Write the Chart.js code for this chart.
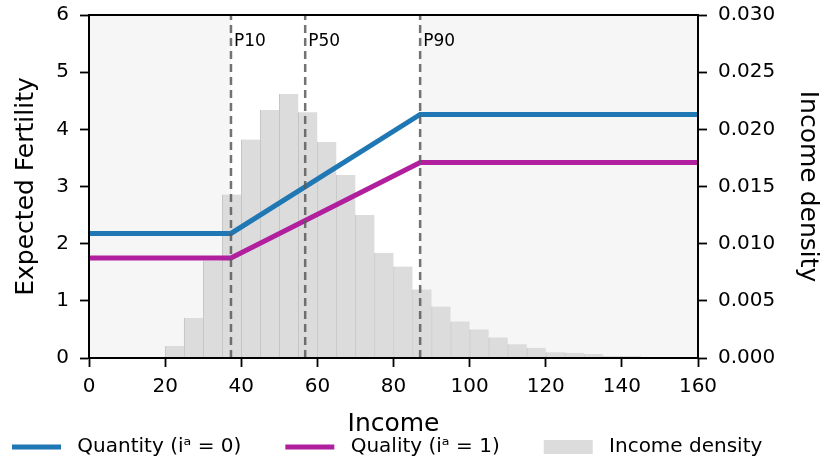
<!DOCTYPE html>
<html>
<head>
<meta charset="utf-8">
<script src="https://cdn.jsdelivr.net/npm/chart.js@4.4.1/dist/chart.umd.min.js"></script>
<style>
html,body{margin:0;padding:0;background:#ffffff;}
canvas{display:block;}
</style>
</head>
<body>
<canvas id="chart" width="822" height="465"></canvas>
<script>
// ---- data ----
const incomeBinLeft = [20, 25, 30, 35, 40, 45, 50, 55, 60, 65, 70, 75, 80, 85, 90, 95, 100, 105, 110, 115, 120, 125, 130, 135, 140];
const incomeBinWidth = 5;
const incomeDensity = [0.00105, 0.0035, 0.0085, 0.0143, 0.0191, 0.0217, 0.0231, 0.0215, 0.0189, 0.0160, 0.0125, 0.0092, 0.0080, 0.0060, 0.0045, 0.0032, 0.0025, 0.0018, 0.0012, 0.0009, 0.0005, 0.00045, 0.00035, 0.00017, 0.00017];

const curveIncome = [0, 37.3, 87.0, 160];
const quantityFertility = [2.18, 2.18, 4.26, 4.26];
const qualityFertility = [1.75, 1.75, 3.42, 3.42];

const percentileNames = ['P10', 'P50', 'P90'];
const percentileIncome = [37.3, 56.8, 87.0];
const percentileLabelY = 5.46;

const legendLabels = [' Quantity (i\u1D43 = 0)', ' Quality (i\u1D43 = 1)', ' Income density'];

const xRange = [0, 160], xStep = 20;
const yRange = [0, 6], yStep = 1;
const y2Range = [0, 0.03], y2Step = 0.005;

// ---- styles ----
const BLUE = '#1f77b4';
const MAGENTA = '#b01f9e';
const BAR = '#dcdcdc';
const BAR_EDGE = '#c4c4c4';
const FONT = "'DejaVu Sans', sans-serif";

Chart.defaults.font.family = FONT;
Chart.defaults.color = '#000';

const barData = incomeBinLeft.map((l, i) => ({x: l + incomeBinWidth / 2, y: incomeDensity[i]}));
const quantityData = curveIncome.map((x, i) => ({x, y: quantityFertility[i]}));
const qualityData = curveIncome.map((x, i) => ({x, y: qualityFertility[i]}));

const vlineSets = percentileIncome.map((p, i) => ({
  type: 'line',
  label: percentileNames[i],
  data: [{x: p, y: yRange[0]}, {x: p, y: yRange[1]}],
  yAxisID: 'y',
  borderColor: 'rgba(90,90,90,0.85)',
  borderWidth: 2.5,
  borderDash: [8, 5],
  pointRadius: 0,
  order: 0
}));

const bgPlugin = {
  id: 'bg',
  beforeDraw(chart) {
    const {ctx, chartArea: a, scales: {x}} = chart;
    ctx.save();
    ctx.fillStyle = '#f6f6f6';
    ctx.fillRect(a.left, a.top, a.right - a.left, a.bottom - a.top);
    const x1 = x.getPixelForValue(percentileIncome[0]);
    const x2 = x.getPixelForValue(percentileIncome[percentileIncome.length - 1]);
    ctx.fillStyle = '#ffffff';
    ctx.fillRect(x1, a.top, x2 - x1, a.bottom - a.top);
    ctx.restore();
  }
};

const framePlugin = {
  id: 'frame',
  afterDatasetsDraw(chart) {
    const {ctx, chartArea: a, scales: {x, y}} = chart;
    ctx.save();
    ctx.fillStyle = '#000';
    ctx.font = "17px " + FONT;
    ctx.textAlign = 'left';
    ctx.textBaseline = 'alphabetic';
    percentileIncome.forEach((p, i) => {
      ctx.fillText(percentileNames[i], x.getPixelForValue(p) + 3, y.getPixelForValue(percentileLabelY));
    });
    ctx.strokeStyle = '#000';
    ctx.lineWidth = 2;
    ctx.strokeRect(a.left, a.top, a.right - a.left, a.bottom - a.top);
    ctx.restore();
  }
};

const axisCommon = {
  grid: {drawOnChartArea: false, drawTicks: true, tickLength: 9, tickWidth: 1.8, color: '#000'},
  border: {display: true, color: '#000', width: 2}
};

new Chart(document.getElementById('chart'), {
  type: 'line',
  data: {
    datasets: [
      {
        type: 'bar',
        label: legendLabels[2],
        data: barData,
        xAxisID: 'x',
        yAxisID: 'y2',
        backgroundColor: BAR,
        borderColor: BAR_EDGE,
        borderWidth: {left: 1, right: 0, top: 0, bottom: 0},
        borderSkipped: false,
        barPercentage: 1,
        categoryPercentage: 1,
        grouped: false,
        order: 3
      },
      {
        type: 'line',
        label: legendLabels[0],
        data: quantityData,
        yAxisID: 'y',
        borderColor: BLUE,
        backgroundColor: BLUE,
        borderWidth: 5,
        pointRadius: 0,
        tension: 0,
        order: 2
      },
      {
        type: 'line',
        label: legendLabels[1],
        data: qualityData,
        yAxisID: 'y',
        borderColor: MAGENTA,
        backgroundColor: MAGENTA,
        borderWidth: 5,
        pointRadius: 0,
        tension: 0,
        order: 2
      },
      ...vlineSets
    ]
  },
  options: {
    responsive: false,
    animation: false,
    devicePixelRatio: 1,
    layout: {padding: {left: -32, right: -36, top: 15, bottom: -2}},
    plugins: {
      tooltip: {enabled: false},
      legend: {
        display: true,
        position: 'bottom',
        align: 'start',
        labels: {
          font: {size: 20, family: FONT},
          color: '#000',
          usePointStyle: true,
          pointStyleWidth: 49,
          boxHeight: 14,
          padding: 44,
          generateLabels() {
            return [
              {text: legendLabels[0], pointStyle: 'line', strokeStyle: BLUE, fillStyle: BLUE, lineWidth: 5, hidden: false, datasetIndex: 1, fontColor: '#000'},
              {text: legendLabels[1], pointStyle: 'line', strokeStyle: MAGENTA, fillStyle: MAGENTA, lineWidth: 5, hidden: false, datasetIndex: 2, fontColor: '#000'},
              {text: legendLabels[2], pointStyle: 'rect', strokeStyle: BAR, fillStyle: BAR, lineWidth: 0, hidden: false, datasetIndex: 0, fontColor: '#000'}
            ];
          }
        }
      }
    },
    scales: {
      x: {
        type: 'linear',
        position: 'bottom',
        min: xRange[0], max: xRange[1],
        offset: false,
        ...axisCommon,
        grid: {...axisCommon.grid, offset: false},
        ticks: {stepSize: xStep, font: {size: 20}, color: '#000', padding: 8, maxRotation: 0, autoSkip: false},
        title: {display: true, text: 'Income', font: {size: 25, lineHeight: 1.2}, color: '#000', padding: {top: 0, bottom: -46}},
        afterFit(s) { s.height = 35; }
      },
      y: {
        type: 'linear',
        position: 'left',
        min: yRange[0], max: yRange[1],
        ...axisCommon,
        ticks: {stepSize: yStep, font: {size: 20, lineHeight: 0.4}, color: '#000', padding: 11},
        title: {display: true, text: 'Expected Fertility', font: {size: 25, lineHeight: 1.2}, color: '#000', padding: {top: 43, bottom: 0}},
        afterFit(s) { s.width = 121; }
      },
      y2: {
        type: 'linear',
        position: 'right',
        min: y2Range[0], max: y2Range[1],
        ...axisCommon,
        ticks: {stepSize: y2Step, font: {size: 20, lineHeight: 0.4}, color: '#000', padding: 11, callback: v => Number(v).toFixed(3)},
        title: {display: true, text: 'Income density', font: {size: 25, lineHeight: 1.2}, color: '#000', padding: {top: 36, bottom: 0}},
        afterFit(s) { s.width = 160; }
      }
    }
  },
  plugins: [bgPlugin, framePlugin]
});
</script>
</body>
</html>
